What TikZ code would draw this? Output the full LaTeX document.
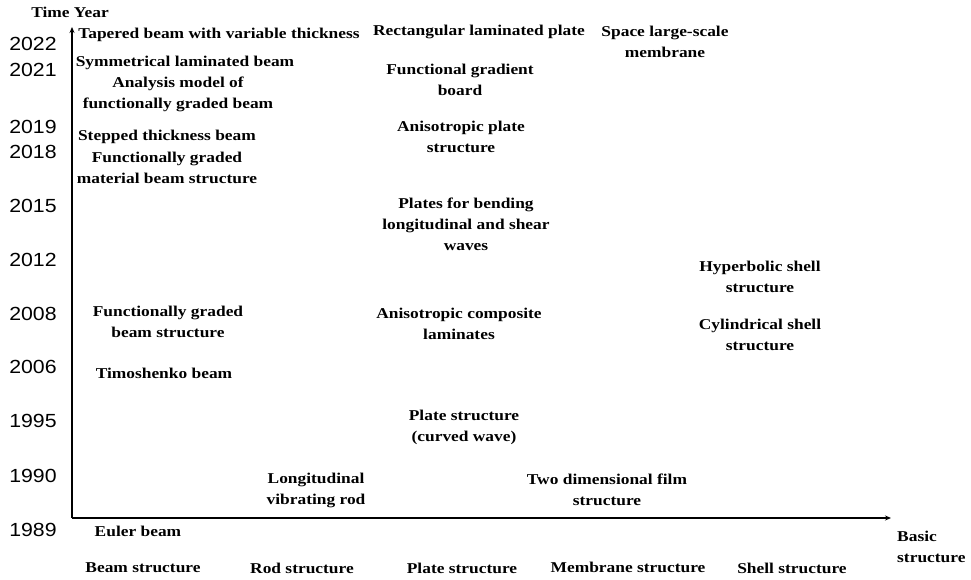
\documentclass[tikz,border=0pt]{standalone}
\usepackage{fontspec}
\setmainfont{Liberation Serif}[FakeStretch=1.16]
\newfontfamily\yearfont{Liberation Sans}[FakeStretch=1.12]
\usetikzlibrary{arrows.meta}
\tikzset{
  lbl/.style={font=\bfseries\fontsize{15}{21}\selectfont, align=center, inner sep=0pt},
  yr/.style={font=\yearfont\fontsize{19}{21}\selectfont, inner sep=0pt},
  axis/.style={line width=1.8pt, -{Stealth[length=6pt,width=5pt]}}
}
\begin{document}
\begin{tikzpicture}[x=1pt,y=-1pt]
\useasboundingbox (0,0) rectangle (971,580);
% axes
\coordinate (o) at (72,518);
\coordinate (ytip) at (72,27);
\coordinate (xtip) at (891,518);
\draw[axis] (o) -- (ytip);
\draw[axis] (o) -- (xtip);
% axis titles
\node[lbl] (ttl) at (70,12) {Time Year};
\node[lbl, align=left, anchor=west] (basic) at (897,547) {Basic\\structure};
% years
\node[yr] (y2022) at (33,44) {2022};
\node[yr] (y2021) at (33,70) {2021};
\node[yr] (y2019) at (33,127) {2019};
\node[yr] (y2018) at (33,152) {2018};
\node[yr] (y2015) at (33,206) {2015};
\node[yr] (y2012) at (33,260) {2012};
\node[yr] (y2008) at (33,314) {2008};
\node[yr] (y2006) at (33,367) {2006};
\node[yr] (y1995) at (33,421) {1995};
\node[yr] (y1990) at (33,476) {1990};
\node[yr] (y1989) at (33,530) {1989};
% bottom categories
\node[lbl] (cbeam) at (143,568) {Beam structure};
\node[lbl] (crod) at (302,568) {Rod structure};
\node[lbl] (cplate) at (462,568) {Plate structure};
\node[lbl] (cmem) at (628,567) {Membrane structure};
\node[lbl] (cshell) at (792,568) {Shell structure};
% beam column
\node[lbl] (b1) at (219,35) {Tapered beam with variable thickness};
\node[lbl] (b2) at (185,63) {Symmetrical laminated beam};
\node[lbl] (b3) at (178,94) {Analysis model of\\functionally graded beam};
\node[lbl] (b4) at (167,137) {Stepped thickness beam};
\node[lbl] (b5) at (167,168) {Functionally graded\\material beam structure};
\node[lbl] (b6) at (168,322) {Functionally graded\\beam structure};
\node[lbl] (b7) at (164,373) {Timoshenko beam};
\node[lbl] (b8) at (138,531) {Euler beam};
% rod column
\node[lbl] (r1) at (316,490) {Longitudinal\\vibrating rod};
% plate column
\node[lbl] (p1) at (479,32) {Rectangular laminated plate};
\node[lbl] (p2) at (460,80) {Functional gradient\\board};
\node[lbl] (p3) at (461,137) {Anisotropic plate\\structure};
\node[lbl] (p4) at (466,224) {Plates for bending\\longitudinal and shear\\waves};
\node[lbl] (p5) at (459,324) {Anisotropic composite\\laminates};
\node[lbl] (p6) at (464,427) {Plate structure\\(curved wave)};
% membrane column
\node[lbl] (m1) at (665,42) {Space large-scale\\membrane};
\node[lbl] (m2) at (607,490) {Two dimensional film\\structure};
% shell column
\node[lbl] (s1) at (760,277) {Hyperbolic shell\\structure};
\node[lbl] (s2) at (760,335) {Cylindrical shell\\structure};
\end{tikzpicture}
\end{document}
